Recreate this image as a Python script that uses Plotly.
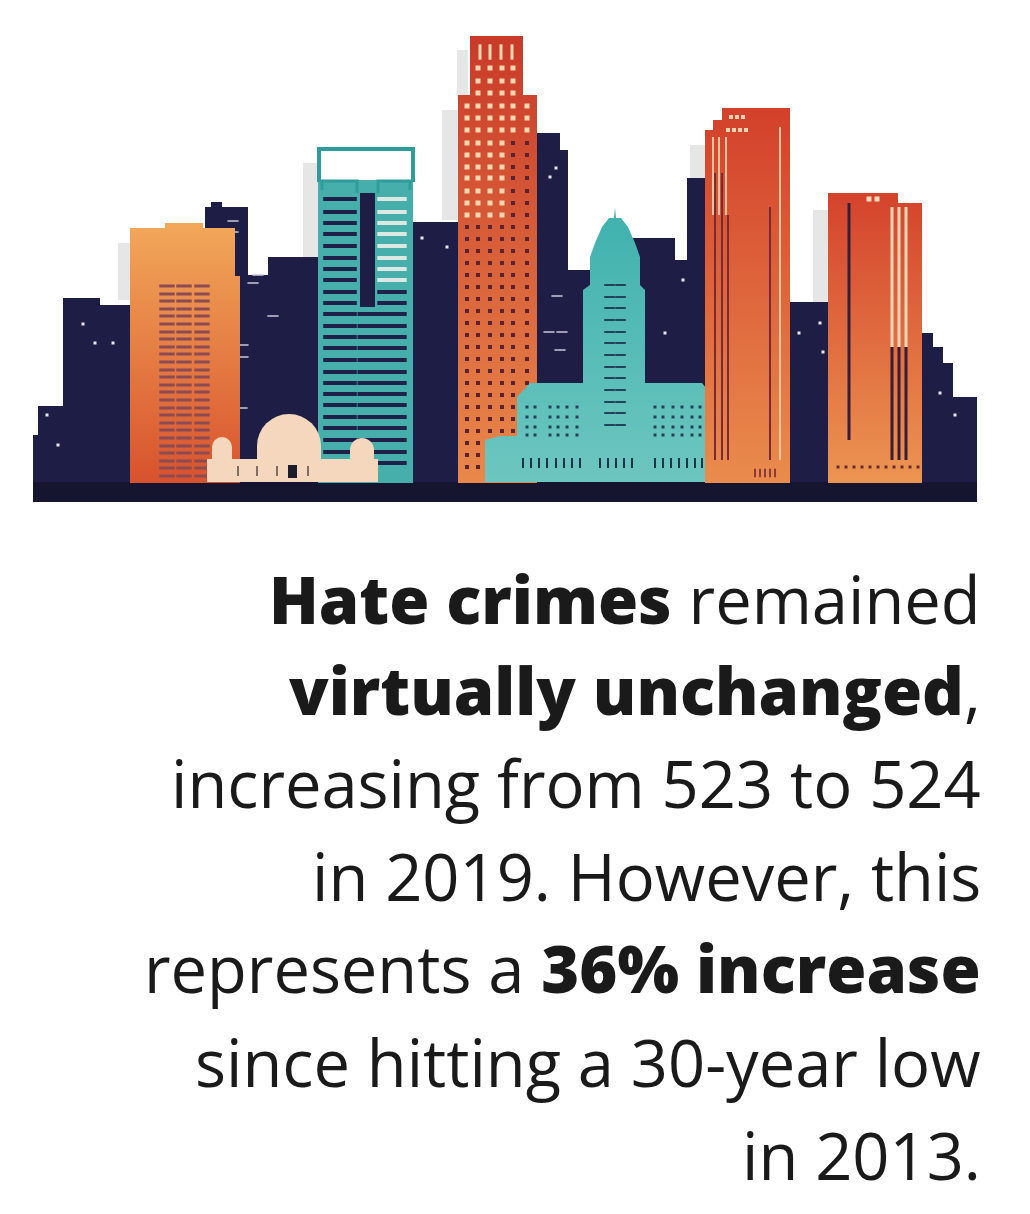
"""Skyline infographic: hate crimes text panel under an LA skyline illustration.

The canvas axes span the whole figure 1:1 with page pixels (y grows downward),
so the building outlines below are simply listed in page pixels.
"""
import plotly.graph_objects as go

W, H = 1030, 1214
PAD = 8  # default body margin of the html page
GROUND = 483

NAVY, GROUND_C = "#1d1d45", "#15152f"
TEAL, TEAL_DARK = "#46aeab", "#2f9d9b"
CREAM, INK = "#f4d7bd", "#1a1a1a"

# background navy blocks: (x0, x1, top) standing on the ground line
NAVY_X0 = [33, 38, 63, 95, 205, 211, 246, 268, 413, 535, 556, 566, 632, 672, 687, 788, 920, 931, 941, 951]
NAVY_X1 = [40, 65, 100, 132, 248, 222, 270, 320, 460, 560, 568, 592, 675, 690, 707, 830, 933, 943, 953, 977]
NAVY_TOP = [435, 406, 298, 305, 207, 202, 275, 257, 222, 133, 150, 270, 238, 260, 178, 302, 333, 347, 363, 397]

# faint grey "ghost" towers behind the skyline
GHOST_X0 = [118, 303, 457, 442, 690, 813]
GHOST_X1 = [131, 320, 468, 458, 705, 828]
GHOST_TOP = [243, 163, 50, 110, 145, 210]
GHOST_BOT = [300, 262, 100, 220, 178, 302]

# coloured towers as outlines (x list, y list)
ORANGE1_X = [130, 130, 165, 165, 203, 203, 235, 235, 240, 240]
ORANGE1_Y = [483, 228, 228, 223, 223, 228, 228, 276, 276, 483]
TALL_X = [458, 458, 470, 470, 523, 523, 537, 537]
TALL_Y = [483, 95, 95, 36, 36, 95, 95, 483]
ORANGE2_X = [705, 705, 713, 713, 722, 722, 790, 790]
ORANGE2_Y = [483, 130, 130, 120, 120, 108, 108, 483]
ORANGE3_X = [828, 828, 898, 898, 922, 922]
ORANGE3_Y = [483, 193, 193, 203, 203, 483]
HALL_X = [485, 485, 500, 517, 517, 530, 583, 583, 590, 590, 595, 602, 609, 614, 615, 616, 621,
          628, 635, 640, 640, 645, 645, 702, 713, 713, 735, 747, 747]
HALL_Y = [482, 440, 436, 436, 397, 383, 383, 290, 285, 257, 243, 227, 218, 218, 207, 218, 218,
          227, 243, 257, 285, 290, 383, 383, 397, 436, 436, 445, 482]

# window grids
O1_COLS = [167, 184, 202]
O1_ROWS = [286, 294, 301, 309, 316, 324, 332, 339, 347, 354, 362, 370, 377, 385, 392, 400, 408,
           415, 423, 430, 438, 446, 453, 461, 468, 476]
TEAL_COLS = [340, 368, 392]
TEAL_W = [24, 15, 21]
TEAL_ROWS = [199, 212, 223, 234, 246, 258, 269, 280, 292, 303, 314, 326, 337, 348, 360, 372, 383,
             394, 405, 417, 428, 440, 452, 463]
TALL_TOP_COLS = [478, 490, 502, 513]
TALL_TOP_ROWS = [68, 81, 93]
TALL_SLITS = [480, 490, 501, 512]
TALL_COLS = [467, 478, 490, 502, 513, 527]
TALL_LIT_ROWS = [106, 118, 130, 143, 155, 167, 178, 191, 203, 215]
TALL_DARK_ROWS = [227, 239, 251, 263, 275, 287, 299, 311, 323, 335, 347, 359, 371, 383, 395, 407,
                  419, 431, 443, 455, 467]
HALL_TOWER_COLS = [607, 612, 618, 623]
HALL_TOWER_ROWS = [285, 297, 308, 320, 332, 343, 355, 367, 378, 390, 402, 413, 425]
HALL_WING_COLS = [527, 535, 550, 558, 567, 577, 655, 663, 673, 682, 692, 700]
HALL_WING_ROWS = [407, 417, 427, 435]
HALL_BASE_COLS = [523, 531, 539, 547, 556, 564, 572, 580, 600, 608, 616, 624, 632,
                  655, 663, 671, 679, 687, 695, 702]

# observatory domes (centre x, centre y, diameter)
DOME_X = [222, 289, 362]
DOME_Y = [447, 446, 450]
DOME_D = [20, 64, 24]

STAR_X = [83, 95, 113, 47, 58, 422, 447, 367, 367, 556, 550, 665, 683, 799, 820, 823, 940, 955]
STAR_Y = [324, 343, 343, 415, 445, 238, 247, 277, 210, 168, 177, 333, 280, 333, 323, 352, 393, 415]
DASH_X = [233, 233, 258, 253, 226, 273, 243, 243, 242, 557, 549, 562, 560]
DASH_Y = [221, 232, 275, 283, 316, 316, 345, 357, 408, 296, 332, 332, 350]

BOLD = "<span style='font-weight:800'>{}</span>"
LINES = [
    BOLD.format("Hate crimes") + " remained",
    BOLD.format("virtually unchanged") + ",",
    "increasing from 523 to 524",
    "in 2019. However, this",
    "represents a " + BOLD.format("36% increase"),
    "since hitting a 30-year low",
    "in 2013.",
]
BASELINES = [624, 715, 808, 901, 993, 1087, 1180]


def rects(x0s, x1s, tops, bots):
    xs, ys = [], []
    for a, b, t, u in zip(x0s, x1s, tops, bots):
        xs += [a, a, b, b, a, None]
        ys += [u, t, t, u, u, None]
    return xs, ys


def poly(fig, xs, ys, color=None, grad=None, opacity=1.0):
    kw = dict(x=xs, y=ys, mode="lines", fill="toself", line=dict(width=0),
              hoverinfo="skip", showlegend=False, opacity=opacity)
    if grad:  # grad = (top colour, bottom colour)
        kw["fillgradient"] = dict(type="vertical", colorscale=[[0, grad[1]], [1, grad[0]]])
    else:
        kw["fillcolor"] = color
    fig.add_trace(go.Scatter(**kw))


def marks(fig, xs, ys, color, symbol="square", size=4, lw=0):
    fig.add_trace(go.Scatter(
        x=xs, y=ys, mode="markers", hoverinfo="skip", showlegend=False,
        marker=dict(symbol=symbol, size=size, color=color, opacity=1,
                    line=dict(width=lw, color=color))))


def grid(cols, rows):
    return [c for r in rows for c in cols], [r for r in rows for c in cols]


def vlines(fig, xs, y0s, y1s, color, width=2):
    px, py = [], []
    for x, a, b in zip(xs, y0s, y1s):
        px += [x, x, None]
        py += [a, b, None]
    fig.add_trace(go.Scatter(x=px, y=py, mode="lines", line=dict(color=color, width=width),
                             hoverinfo="skip", showlegend=False))


fig = go.Figure()

# ghosts, then navy backdrop and ground
poly(fig, *rects(GHOST_X0, GHOST_X1, GHOST_TOP, GHOST_BOT), color="#dcdcdc", opacity=0.7)
poly(fig, *rects(NAVY_X0, NAVY_X1, NAVY_TOP, [GROUND] * len(NAVY_TOP)), color=NAVY)
poly(fig, *rects([33], [977], [GROUND - 1], [502]), color=GROUND_C)
marks(fig, STAR_X, STAR_Y, "#e8e8f0", size=3)
marks(fig, DASH_X, DASH_Y, "#c9c9d8", symbol="line-ew", size=8, lw=1.5)

# left orange tower
poly(fig, ORANGE1_X, ORANGE1_Y, grad=("#f2a85a", "#d8522d"))
ox, oy = grid(O1_COLS, O1_ROWS)
marks(fig, ox, oy, "#8c4b52", symbol="line-ew", size=11, lw=3)

# teal tower with hollow crown
poly(fig, *rects([318], [413], [180], [GROUND]), color=TEAL)
poly(fig, *rects([360], [375], [193], [307]), color=NAVY)
for c, w in zip(TEAL_COLS, TEAL_W):
    rows = [r for r in TEAL_ROWS if c != 368 or r > 307]
    dark = [r for r in rows if c != 392 or r > 290]
    lit = [r for r in rows if c == 392 and r <= 290]
    marks(fig, [c] * len(dark), dark, "#1f2148", symbol="line-ew", size=w, lw=4)
    if lit:
        marks(fig, [c] * len(lit), lit, "#dce8e2", symbol="line-ew", size=w, lw=4)
fig.add_trace(go.Scatter(x=[319, 319, 413, 413], y=[182, 149, 149, 182], mode="lines",
                         line=dict(color=TEAL_DARK, width=4), hoverinfo="skip", showlegend=False))
fig.add_trace(go.Scatter(x=[322, 322, 357, 357, None, 378, 378, 410, 410],
                         y=[190, 181, 181, 193, None, 193, 181, 181, 190], mode="lines",
                         line=dict(color=TEAL_DARK, width=3), hoverinfo="skip", showlegend=False))

# tall red tower
poly(fig, TALL_X, TALL_Y, grad=("#c93a29", "#e9884b"))
marks(fig, TALL_SLITS, [52] * 4, "#f6d7ae", symbol="line-ns", size=11, lw=3)
tx, ty = grid(TALL_TOP_COLS, TALL_TOP_ROWS)
marks(fig, tx, ty, "#f6d7ae", size=5)
lx, ly = grid(TALL_COLS, TALL_LIT_ROWS)
lit = [(x, y) for x, y in zip(lx, ly) if not (x >= 513 and y >= 143)]
dim = [(x, y) for x, y in zip(lx, ly) if x >= 513 and y >= 143]
marks(fig, [p[0] for p in lit], [p[1] for p in lit], "#f6d7ae", size=5)
dx, dy = grid(TALL_COLS, TALL_DARK_ROWS)
marks(fig, dx + [p[0] for p in dim], dy + [p[1] for p in dim], "#5b2232", size=4)

# city hall
poly(fig, HALL_X, HALL_Y, grad=("#3fb1ae", "#6dc6bf"))
hx, hy = grid(HALL_TOWER_COLS, HALL_TOWER_ROWS)
marks(fig, hx, hy, "#24415a", symbol="line-ew", size=4, lw=2)
wx, wy = grid(HALL_WING_COLS, HALL_WING_ROWS)
marks(fig, wx, wy, "#24415a", size=3)
marks(fig, HALL_BASE_COLS, [463] * len(HALL_BASE_COLS), "#1f3346", symbol="line-ns", size=7, lw=2)

# right orange towers
poly(fig, ORANGE2_X, ORANGE2_Y, grad=("#d3402b", "#ea8c4d"))
vlines(fig, [713, 719, 726, 780], [137, 137, 137, 127], [215, 215, 215, 460], "#f3c39c")
vlines(fig, [715, 722, 728, 770], [173, 173, 215, 207], [460, 460, 460, 460], "#7a2a35")
marks(fig, [731, 737, 743, 728, 734, 740, 746], [117, 117, 117, 130, 130, 130, 130], "#f6d3b0", size=4)
marks(fig, [755, 760, 765, 770, 775], [473] * 5, "#8a3a3a", symbol="line-ns", size=6, lw=2)

poly(fig, ORANGE3_X, ORANGE3_Y, grad=("#d4432c", "#ec9552"))
vlines(fig, [892, 899, 906], [207, 207, 207], [347, 347, 347], "#f7d6b8", width=3)
vlines(fig, [892, 899, 906, 849], [347, 347, 347, 203], [460, 460, 460, 440],
       "#3a1d35", width=3)
marks(fig, [869, 877], [199, 199], "#f6dcc0", size=5)
marks(fig, [838, 846, 854, 862, 870, 878, 886, 894, 902, 910, 918], [467] * 11, "#6b2a30", size=3)

# observatory
marks(fig, DOME_X, DOME_Y, CREAM, symbol="circle", size=DOME_D)
poly(fig, *rects([212, 257, 350, 207], [232, 321, 374, 378], [447, 446, 450, 459], [460, 460, 460, 482]),
     color=CREAM)
poly(fig, *rects([288], [297], [465], [478]), color="#1d1d2e")
marks(fig, [238, 257, 277, 308], [471] * 4, "#5a4a4a", symbol="line-ns", size=7, lw=1.5)

for text, base in zip(LINES, BASELINES):
    fig.add_annotation(x=983, y=base - 25, xref="x", yref="y", text=text, showarrow=False,
                       xanchor="right", yanchor="middle", align="right",
                       font=dict(family="Open Sans", size=65, color=INK))

# the page adds an 8px body margin, so shrink the figure and offset the axes
fig.update_layout(width=W - 2 * PAD, height=H - 2 * PAD, margin=dict(l=0, r=0, t=0, b=0),
                  paper_bgcolor="white", plot_bgcolor="white", showlegend=False)
fig.update_xaxes(range=[PAD, W - PAD], visible=False, fixedrange=True)
fig.update_yaxes(range=[H - PAD, PAD], visible=False, fixedrange=True)

fig.write_html("out.html")
